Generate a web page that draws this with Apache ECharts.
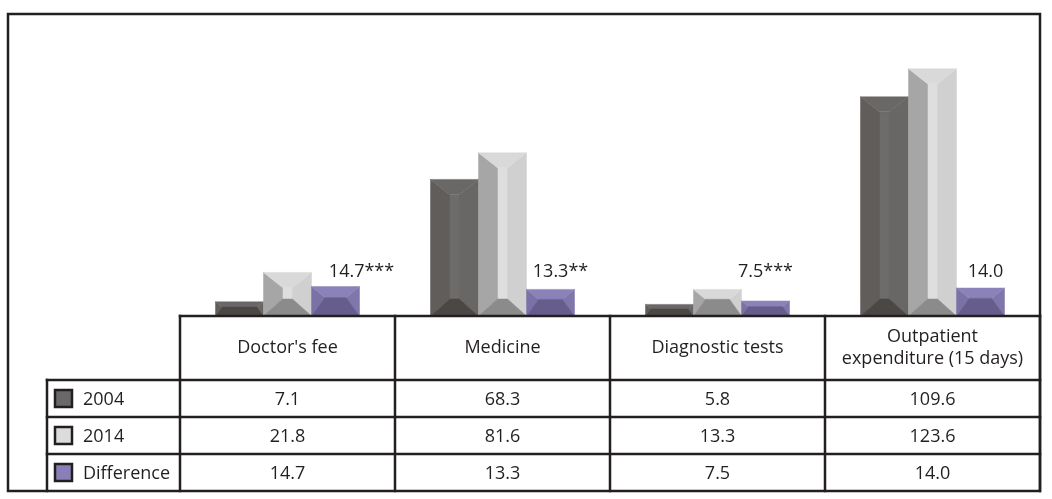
<!DOCTYPE html>
<html>
<head>
<meta charset="utf-8">
<script src="https://cdn.jsdelivr.net/npm/echarts@6/dist/echarts.min.js"></script>
<style>
  html, body { margin: 0; padding: 0; background: #ffffff; }
  #chart { width: 1052px; height: 499px; }
</style>
</head>
<body>
<div id="chart"></div>
<script>
// Out-of-pocket spending by item, 2004 vs 2014
const categories = ["Doctor's fee", "Medicine", "Diagnostic tests", "Outpatient\nexpenditure (15 days)"];
const seriesNames = ['2004', '2014', 'Difference'];
const values2004 = [7.1, 68.3, 5.8, 109.6];
const values2014 = [21.8, 81.6, 13.3, 123.6];
const valuesDiff = [14.7, 13.3, 7.5, 14.0];
const diffStars = ['***', '**', '***', ''];

// layout
const W = 1052, H = 499;
const INK = '#231f20';
const FONT = 'Open Sans';
const FS = 18;
const LW = 2.5;
const gridLeft = 180, gridRight = 1040, gridTop = 16, axisY = 316;
const headerH = 64, rowH = 37, legendColLeft = 47;
const labelLevel = 22;               // value height where the difference labels sit
const labelDx = [26, 10, 0, 5];      // horizontal nudges for the difference labels

// facet palettes: top, left, centre, right, bottom
const palettes = [
  { top: '#6a6866', left: '#605d5b', mid: '#6e6c6a', right: '#696765', bottom: '#4b4745', swatch: '#6b6968' },
  { top: '#d9d9d9', left: '#a6a6a6', mid: '#dedede', right: '#d0d0d0', bottom: '#8b8b8b', swatch: '#dcdcdc' },
  { top: '#8b82b9', left: '#7a71a7', mid: '#857cb3', right: '#7f76ac', bottom: '#665d8c', swatch: '#8a80b8' }
];
const allValues = [values2004, values2014, valuesDiff];

function bevelBar(x0, x1, y0, y1, pal) {
  const h = y1 - y0;
  let tb, bb, bx;
  if (h >= 34) { tb = 15; bb = 17; bx = 19; }
  else { tb = h * 0.37; bb = h * 0.63; bx = Math.min(19, h * 0.45); }
  const ix0 = x0 + bx, ix1 = x1 - bx, iy0 = y0 + tb, iy1 = y1 - bb;
  const poly = (pts, c) => ({ type: 'polygon', shape: { points: pts }, style: { fill: c, stroke: c, lineWidth: 0.5 } });
  return [
    { type: 'rect', shape: { x: ix0 - 0.5, y: iy0, width: ix1 - ix0 + 1, height: Math.max(0, iy1 - iy0) }, style: { fill: pal.mid } },
    poly([[x0, y0], [ix0, iy0], [ix0, iy1], [x0, y1]], pal.left),
    poly([[x1, y0], [ix1, iy0], [ix1, iy1], [x1, y1]], pal.right),
    poly([[x0, y0], [x1, y0], [ix1, iy0], [ix0, iy0]], pal.top),
    poly([[x0, y1], [x1, y1], [ix1, iy1], [ix0, iy1]], pal.bottom)
  ];
}

function makeSeries(k) {
  return {
    type: 'custom',
    name: seriesNames[k],
    data: allValues[k].map((v, i) => [i, v]),
    encode: { x: 0, y: 1 },
    renderItem: function (params, api) {
      const ci = api.value(0), v = api.value(1);
      const base = api.coord([ci, 0]);
      const top = api.coord([ci, v]);
      const band = api.size([1, 0])[0];
      const bw = band * 0.2233;
      const x0 = base[0] + (k - 1.5) * bw, x1 = x0 + bw;
      const children = bevelBar(x0, x1, top[1], base[1], palettes[k]);
      if (k === 2) {
        const ly = api.coord([ci, labelLevel])[1];
        children.push({
          type: 'text',
          style: {
            text: v.toFixed(1) + diffStars[ci],
            x: (x0 + x1) / 2 + labelDx[ci], y: ly,
            align: 'center', verticalAlign: 'middle',
            fontSize: FS, fontFamily: FONT, fill: INK
          }
        });
      }
      return { type: 'group', children: children };
    }
  };
}

// data table under the plot
function tableGraphics() {
  const g = [];
  const line = (x1, y1, x2, y2) => g.push({ type: 'line', shape: { x1, y1, x2, y2 }, style: { stroke: INK, lineWidth: LW, lineCap: 'square' }, z: 10 });
  const colW = (gridRight - gridLeft) / categories.length;
  const tableBottom = axisY + headerH + rowH * 3;
  // outer frame
  g.push({ type: 'rect', shape: { x: 8, y: 14, width: gridRight - 8, height: tableBottom - 14 }, style: { fill: 'none', stroke: INK, lineWidth: LW }, z: 10 });
  line(gridLeft, axisY, gridRight, axisY);
  // column dividers
  for (let c = 0; c <= categories.length; c++) {
    const x = gridLeft + c * colW;
    line(x, axisY, x, tableBottom);
  }
  line(legendColLeft, axisY + headerH, legendColLeft, tableBottom);
  for (let r = 0; r < 3; r++) {
    const y = axisY + headerH + r * rowH;
    line(legendColLeft, y, gridRight, y);
    const cy = y + rowH / 2;
    g.push({ type: 'rect', shape: { x: 55, y: cy - 8.5, width: 17, height: 17 }, style: { fill: palettes[r].swatch, stroke: INK, lineWidth: LW }, z: 11 });
    g.push({ type: 'text', style: { text: seriesNames[r], x: 83, y: cy + 1, align: 'left', verticalAlign: 'middle', fontSize: FS, fontFamily: FONT, fill: INK }, z: 11 });
    for (let c = 0; c < categories.length; c++) {
      g.push({ type: 'text', style: { text: allValues[r][c].toFixed(1), x: gridLeft + (c + 0.5) * colW, y: cy + 1, align: 'center', verticalAlign: 'middle', fontSize: FS, fontFamily: FONT, fill: INK }, z: 11 });
    }
  }
  return g;
}

const chart = echarts.init(document.getElementById('chart'), null, { renderer: 'canvas' });
chart.setOption({
  backgroundColor: '#ffffff',
  animation: false,
  grid: { left: gridLeft, right: W - gridRight, top: gridTop, bottom: H - axisY },
  xAxis: {
    type: 'category',
    data: categories,
    axisTick: { show: false },
    axisLine: { show: false },
    axisLabel: { margin: 32, verticalAlign: 'middle', fontSize: FS, lineHeight: 22, fontFamily: FONT, color: INK, interval: 0 }
  },
  yAxis: { type: 'value', min: 0, max: 150, show: false, splitLine: { show: false } },
  series: [makeSeries(0), makeSeries(1), makeSeries(2)],
  graphic: tableGraphics()
});
</script>
</body>
</html>
